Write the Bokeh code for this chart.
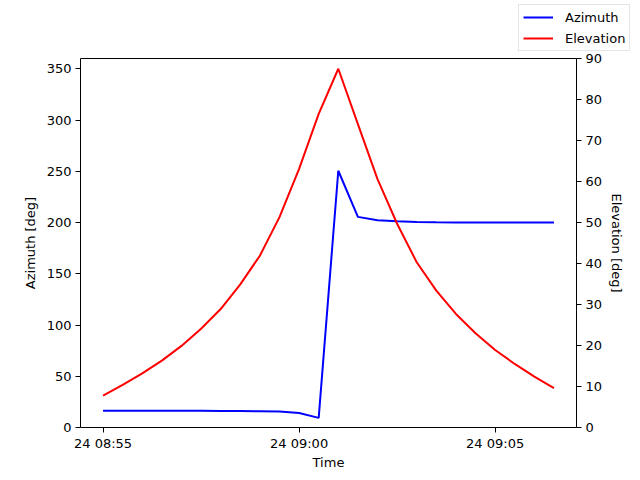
from datetime import datetime
from bokeh.plotting import figure
from bokeh.layouts import column
from bokeh.models import (Range1d, LinearAxis, FixedTicker, DatetimeTickFormatter,
                          Legend, LegendItem, ColumnDataSource)
from bokeh.embed import file_html
from bokeh.resources import INLINE

DAY = "2024-01-24"
times = ["08:55:00", "08:55:30", "08:56:00", "08:56:30", "08:57:00", "08:57:30",
         "08:58:00", "08:58:30", "08:59:00", "08:59:30", "09:00:00", "09:00:30",
         "09:01:00", "09:01:30", "09:02:00", "09:02:30", "09:03:00", "09:03:30",
         "09:04:00", "09:04:30", "09:05:00", "09:05:30", "09:06:00", "09:06:30"]
azimuth = [16.3, 16.3, 16.3, 16.3, 16.3, 16.3, 16.2, 16.1, 15.9, 15.6, 14.2, 9.4,
           250.5, 205.5, 202.3, 201.2, 200.6, 200.3, 200.1, 200.0, 200.0, 199.9, 199.9, 199.9]
elevation = [7.8, 10.4, 13.2, 16.3, 19.9, 24.1, 28.9, 34.9, 41.9, 51.3, 63.1, 76.5,
             87.5, 74.0, 60.6, 49.7, 40.3, 33.4, 27.7, 23.0, 18.9, 15.5, 12.4, 9.6]
series_names = ["Azimuth", "Elevation"]
series_colors = ["#0000ff", "#ff0000"]
tick_times = ["08:55:00", "09:00:00", "09:05:00"]
x_limits = ["08:54:25.5", "09:07:04.5"]
az_ticks = [0, 50, 100, 150, 200, 250, 300, 350]
el_ticks = [0, 10, 20, 30, 40, 50, 60, 70, 80, 90]
az_range = (0, 360)
el_range = (0, 90)


def to_ms(t):
    fmt = "%Y-%m-%d %H:%M:%S.%f" if "." in t else "%Y-%m-%d %H:%M:%S"
    d = datetime.strptime(DAY + " " + t, fmt)
    return (d - datetime(1970, 1, 1)).total_seconds() * 1000.0


x = [to_ms(t) for t in times]
src = ColumnDataSource(dict(x=x, az=azimuth, el=elevation))

FONT = "DejaVu Sans"
W = 640
LH = 51                       # legend strip height
H = 480 - LH                  # main figure height
FL, FT, FW, FH = 80, 58 - LH, 496, 369

# ---- legend strip (above the plot) ----
lf = figure(frame_width=W, frame_height=LH, output_backend="svg", toolbar_location=None,
            x_range=Range1d(0, 1), y_range=Range1d(0, 1),
            x_axis_type=None, y_axis_type=None,
            min_border=0, min_border_left=0, min_border_right=0,
            min_border_top=0, min_border_bottom=0)
lf.grid.visible = False
lf.outline_line_color = None
lf.background_fill_color = "white"
lf.border_fill_color = "white"
# sample lines for the legend only: kept outside the strip's visible range
offscreen = ColumnDataSource(dict(x=[5, 6], y=[5, 6]))
leg_r = [lf.line("x", "y", source=offscreen, line_color=c, line_width=2) for c in series_colors]
legend = Legend(items=[LegendItem(label=n, renderers=[r]) for n, r in zip(series_names, leg_r)],
                location=(518, 0))
legend.label_text_font = FONT
legend.label_text_font_size = "13px"
legend.label_text_color = "black"
legend.padding = 4
legend.spacing = 5
legend.label_height = 16
legend.glyph_height = 16
legend.glyph_width = 30
legend.label_standoff = 12
legend.margin = 0
legend.border_line_color = "#cccccc"
legend.background_fill_color = "white"
legend.background_fill_alpha = 0.8
lf.add_layout(legend)

# ---- main plot ----
p = figure(width=W, height=H, x_axis_type="datetime", output_backend="svg",
           toolbar_location=None,
           x_range=Range1d(to_ms(x_limits[0]), to_ms(x_limits[1])),
           y_range=Range1d(*az_range),
           min_border_left=FL, min_border_right=W - FL - FW,
           min_border_top=FT, min_border_bottom=H - FT - FH)
p.extra_y_ranges = {"el": Range1d(*el_range)}
p.grid.visible = False
p.outline_line_color = "black"
p.outline_line_width = 1
p.background_fill_color = "white"
p.border_fill_color = "white"

p.line("x", "az", source=src, line_color=series_colors[0], line_width=2)
p.line("x", "el", source=src, line_color=series_colors[1], line_width=2, y_range_name="el")

right = LinearAxis(y_range_name="el")
p.add_layout(right, "right")

p.xaxis.ticker = FixedTicker(ticks=[to_ms(t) for t in tick_times])
fmt = "%d %H:%M"
p.xaxis.formatter = DatetimeTickFormatter(seconds=fmt, minsec=fmt, minutes=fmt,
                                          hourmin=fmt, hours=fmt, days=fmt)
p.yaxis[0].ticker = FixedTicker(ticks=az_ticks)
right.ticker = FixedTicker(ticks=el_ticks)

p.xaxis.axis_label = "Time"
p.yaxis[0].axis_label = "Azimuth [deg]"
right.axis_label = "Elevation [deg]"

for ax in p.xaxis + p.yaxis:
    ax.axis_line_color = None
    ax.major_tick_line_color = "black"
    ax.major_tick_in = 0
    ax.major_tick_out = 5
    ax.minor_tick_line_color = None
    ax.major_label_text_font = FONT
    ax.major_label_text_font_size = "13px"
    ax.major_label_text_color = "black"
    ax.major_label_standoff = 4
    ax.axis_label_text_font = FONT
    ax.axis_label_text_font_size = "13px"
    ax.axis_label_text_font_style = "normal"
    ax.axis_label_text_color = "black"
    ax.axis_label_standoff = 6
p.xaxis.axis_label_standoff = 1
p.xaxis.major_label_standoff = 3
right.axis_label_standoff = 4

layout = column(lf, p, spacing=0)
open("out.html", "w").write(file_html(layout, INLINE))
